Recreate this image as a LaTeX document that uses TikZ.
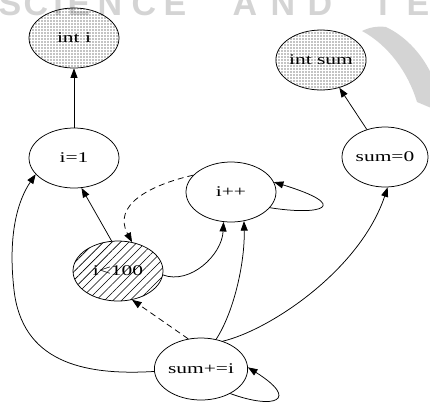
\documentclass[tikz,border=0pt]{standalone}
\usepackage{fontspec}
\setmainfont{Liberation Serif}
\newfontfamily\labfont[FakeStretch=1.45]{Liberation Serif}
\newfontfamily\wmfont{Liberation Sans}
\usetikzlibrary{arrows.meta,patterns.meta,shapes.geometric}
\begin{document}
\begin{tikzpicture}[x=1pt,y=-1pt,
  st/.style={ellipse, draw, line width=0.75pt, minimum width=90pt, minimum height=60pt, inner sep=0pt, font={\labfont\fontsize{14.8}{16}\selectfont}},
  dotfill/.style={pattern={Dots[distance=3pt,radius=0.55pt]}, pattern color=black},
  hatchfill/.style={pattern={Lines[angle=45,distance=6pt,line width=0.6pt]}},
  conn/.style={line width=0.75pt, -{Triangle[length=9.5pt,width=7pt]}},
  dconn/.style={conn, dash pattern=on 6pt off 4pt},
  wm/.style={text=black!17, font={\wmfont\bfseries\fontsize{34}{36}\selectfont}, anchor=base, inner sep=0pt}
]
\useasboundingbox (0,0) rectangle (430,405);
\begin{scope}
  \clip (0,0) rectangle (430,405);
  \foreach \ch/\xx in {S/10,C/36,I/58,E/79,N/110,C/144,E/175,A/245,N/283,D/320,T/383,E/418}
    \node[wm] at (\xx,15) {\ch};
  \fill[black!17] (362,31) .. controls (370,27) and (378,26) .. (386,27)
     .. controls (405,36) and (425,55) .. (436,85) -- (436,110) -- (417,102)
     .. controls (408,72) and (388,45) .. (362,31) -- cycle;
\end{scope}

\node[st, dotfill] (inti) at (74,38) {int i};
\node[st, dotfill] (intsum) at (321,60) {int sum};
\node[st] (i1) at (74,158) {i=1};
\node[st, minimum width=86pt] (sum0) at (385,157) {sum=0};
\node[st] (ipp) at (231,192) {i++};
\node[st, hatchfill] (ilt) at (118,271) {i<100};
\node[st, minimum width=92pt, minimum height=62pt] (sumpi) at (201,369) {sum+=i};

\draw[conn] (i1.90) -- (inti.270);
\draw[conn] (sum0) -- (intsum);
\draw[conn] (ilt.102) -- (i1.284);
\draw[dconn] (ipp.156) .. controls (150,185) and (112,205) .. (ilt.64);
\draw[conn] (ilt.355) .. controls (190,285) and (222,255) .. (ipp.256);
\draw[conn] (sumpi.63) .. controls (235,310) and (245,260) .. (ipp.294);
\draw[conn] (sumpi.52) .. controls (270,330) and (360,270) .. (sum0.275);
\draw[conn] (sumpi.183) .. controls (80,376) and (22,360) .. (14,290)
   .. controls (7.6,234) and (18,200) .. (i1.203);
\draw[dconn] (sumpi.113) -- (ilt.296);
\draw[conn] (ipp.338) .. controls (322,216) and (352,206) .. (ipp.13);
\draw[conn] (sumpi.320) .. controls (275,410) and (300,400) .. (sumpi.2);
\end{tikzpicture}
\end{document}
